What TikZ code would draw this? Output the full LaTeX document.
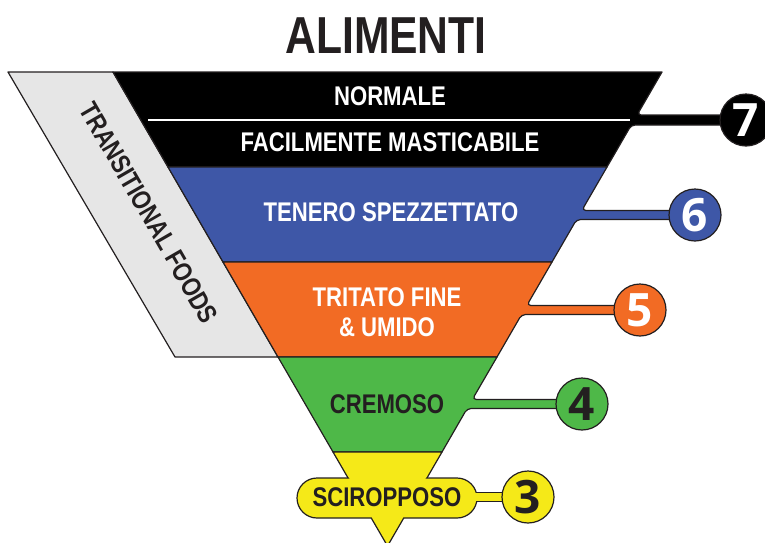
\documentclass[tikz,border=0pt]{standalone}
\usepackage{fontspec}
\setmainfont{Liberation Sans}[FakeStretch=0.82]
\newfontfamily\numfont{Open Sans}
\usetikzlibrary{positioning}
\definecolor{ink}{HTML}{231F20}
\definecolor{lvlgrey}{HTML}{E6E6E6}
\definecolor{lvlblue}{HTML}{3E57A7}
\definecolor{lvlorange}{HTML}{F26B24}
\definecolor{lvlgreen}{HTML}{4EB848}
\definecolor{lvlyellow}{HTML}{F5E918}
\tikzset{
  layer/.style ={draw=ink, line width=1.2pt, line join=round},
  lab/.style   ={font=\bfseries\fontsize{27}{30}\selectfont, text=white,
                 align=center, inner sep=0pt},
  num/.style   ={circle, draw=ink, line width=1.2pt, minimum size=52pt,
                 inner sep=0pt, font=\numfont\bfseries\fontsize{46}{46}\selectfont},
}
\begin{document}
\begin{tikzpicture}[x=1pt,y=-1pt]
\useasboundingbox (0,0) rectangle (765,542);
% title
\node[font=\bfseries\fontsize{52}{52}\selectfont, text=ink, inner sep=0pt] (title) at (386,36) {ALIMENTI};
% transitional band
\draw[layer, fill=lvlgrey] (8,72) -- (113,72) -- (278,357) -- (175,357) -- cycle;
\node[lab, text=ink, rotate=-60] (trans) at (149,213) {TRANSITIONAL FOODS};
% funnel levels, each with its tab to the number
\draw[layer, fill=black] (113,72) -- (662,72) [rounded corners=4pt] -- (637.1,115) -- (746,115)
   -- (746,125) -- (631.3,125) [sharp corners] -- (607,167) -- (168,167) -- cycle;
\draw[white, line width=2pt] (148,120) -- (630,120);
\draw[layer, fill=lvlblue] (168,167) -- (607,167) [rounded corners=4pt] -- (581.8,210.5) -- (695,210.5)
   -- (695,219.5) -- (576.6,219.5) [sharp corners] -- (552,262) -- (223,262) -- cycle;
\draw[layer, fill=lvlorange] (223,262) -- (552,262) [rounded corners=4pt] -- (526.8,305.5) -- (640,305.5)
   -- (640,314.5) -- (521.6,314.5) [sharp corners] -- (497,357) -- (278,357) -- cycle;
\draw[layer, fill=lvlgreen] (278,357) -- (497,357) [rounded corners=4pt] -- (472.3,399.5) -- (582,399.5)
   -- (582,408.5) -- (467.1,408.5) [sharp corners] -- (442,452) -- (333,452) -- cycle;
% yellow tip with its pill
\draw[layer, fill=lvlyellow] (333,452) -- (442,452) -- (387.5,546) -- cycle;
\draw[layer, fill=lvlyellow] (470,492.5) rectangle (528,501.5);
\draw[layer, fill=lvlyellow, rounded corners=20pt] (297,478) rectangle (477,518);
\fill[lvlyellow] (348,476) -- (427,476) -- (401.6,520) -- (373.4,520) -- cycle;
\fill[lvlyellow] (465,493.2) rectangle (500,500.8);
% numbers
\node[num, fill=black, text=white] (n7) at (746,120) {7};
\node[num, fill=lvlblue, text=white] (n6) at (695,215) {6};
\node[num, fill=lvlorange, text=white] (n5) at (640,310) {5};
\node[num, fill=lvlgreen, text=ink] (n4) at (582,404) {4};
\node[num, fill=lvlyellow, text=ink] (n3) at (528,497) {3};
% level labels
\node[lab] (normale) at (390,96) {NORMALE};
\node[lab] (facile) at (390,142) {FACILMENTE MASTICABILE};
\node[lab] (tenero) at (391,212) {TENERO SPEZZETTATO};
\node[lab] (tritato) at (387,312) {TRITATO FINE\\\& UMIDO};
\node[lab, text=ink] (cremoso) at (387,404) {CREMOSO};
\node[lab, text=ink] (sciroppo) at (387,497) {SCIROPPOSO};
\end{tikzpicture}
\end{document}
